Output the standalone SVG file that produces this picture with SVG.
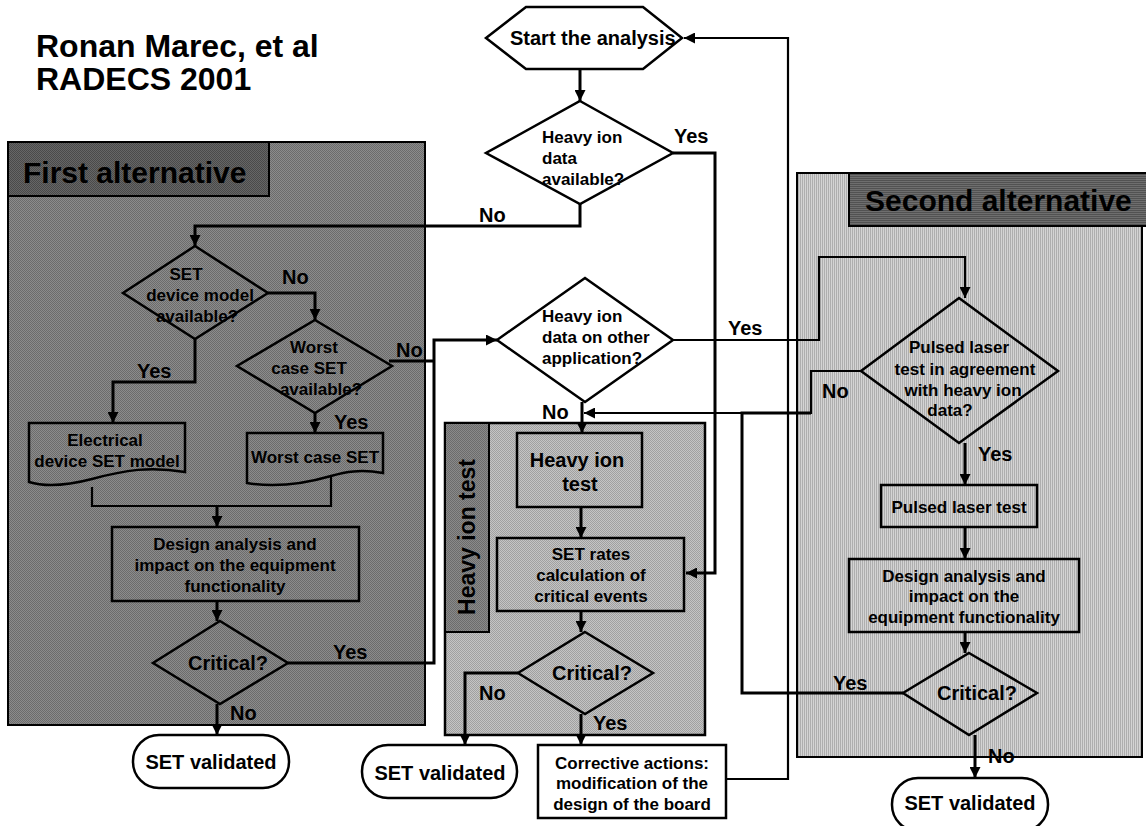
<svg xmlns="http://www.w3.org/2000/svg" width="1146" height="826" viewBox="0 0 1146 826">
<defs>
<pattern id="pA" width="2" height="2" patternUnits="userSpaceOnUse"><rect width="2" height="2" fill="#8c8c8c"/><rect width="1" height="1" fill="#6c6c6c"/><rect x="1" y="1" width="1" height="1" fill="#6c6c6c"/></pattern>
<pattern id="pAh" width="2" height="2" patternUnits="userSpaceOnUse"><rect width="2" height="2" fill="#666"/><rect width="1" height="1" fill="#4a4a4a"/><rect x="1" y="1" width="1" height="1" fill="#4a4a4a"/></pattern>
<pattern id="pB" width="2" height="2" patternUnits="userSpaceOnUse"><rect width="2" height="2" fill="#c4c4c4"/><rect width="1" height="1" fill="#a0a0a0"/><rect x="1" y="1" width="1" height="1" fill="#a0a0a0"/></pattern>
<pattern id="pBh" width="2" height="2" patternUnits="userSpaceOnUse"><rect width="2" height="2" fill="#8a8a8a"/><rect width="1" height="1" fill="#6c6c6c"/><rect x="1" y="1" width="1" height="1" fill="#6c6c6c"/></pattern>
<pattern id="pC" width="2" height="2" patternUnits="userSpaceOnUse"><rect width="2" height="2" fill="#d4d4d4"/><rect width="1" height="2" fill="#aeaeae"/></pattern>
<pattern id="pCh" width="2" height="2" patternUnits="userSpaceOnUse"><rect width="2" height="2" fill="#6e6e6e"/><rect width="2" height="1" fill="#525252"/></pattern>
<marker id="ar" viewBox="0 0 10 10" refX="10" refY="5" markerWidth="12" markerHeight="11" markerUnits="userSpaceOnUse" orient="auto"><path d="M0,0 L10,5 L0,10 Z" fill="#000"/></marker>
</defs>
<style>
text{font-family:"Liberation Sans",Arial,sans-serif;font-weight:bold;fill:#000}
.t17{font-size:17px}
.t20{font-size:20px}
.t30{font-size:30px}
.m{text-anchor:middle}
.sh{stroke:#000;stroke-width:2.5}
.w{fill:#fff}
.n{fill:none}
.c{fill:none;stroke:#000;stroke-width:3;stroke-linejoin:miter}
.c2{fill:none;stroke:#000;stroke-width:2.2}
.a{marker-end:url(#ar)}
</style>
<rect width="1146" height="826" fill="#fff"/>

<g id="title">
<text x="36" y="57" style="font-size:32px">Ronan Marec, et al</text>
<text x="36" y="90" style="font-size:32px">RADECS 2001</text>
</g>

<g id="panel-first">
<rect x="8" y="142" width="417" height="583" fill="url(#pA)" stroke="#000" stroke-width="2"/>
<rect x="8" y="142" width="261" height="54" fill="url(#pAh)" stroke="#000" stroke-width="2"/>
<text class="t30" x="23" y="183">First alternative</text>
</g>
<g id="panel-hit">
<rect x="445" y="423" width="260" height="312" fill="url(#pB)" stroke="#000" stroke-width="2.5"/>
<rect x="445" y="423" width="44" height="209" fill="url(#pBh)" stroke="#000" stroke-width="2"/>
<text transform="translate(475,537) rotate(-90)" class="m" style="font-size:23px">Heavy ion test</text>
</g>
<g id="panel-second">
<rect x="797" y="173" width="345" height="584" fill="url(#pC)" stroke="#000" stroke-width="2"/>
<rect x="849" y="173" width="300" height="53" fill="url(#pCh)" stroke="#000" stroke-width="2"/>
<text class="t30" x="865" y="211">Second alternative</text>
</g>

<g id="connectors">
<path class="c a" d="M580,69 V101"/>
<path class="c" d="M580,204 V226 H195 V246" marker-end="url(#ar)"/>
<path class="c a" d="M673,153 H715 V573 H686"/>
<path class="c a" d="M268,293 H315 V320"/>
<path class="c a" d="M195,339 V382 H113 V423"/>
<path class="c" d="M389,361 H434"/>
<path class="c a" d="M288,663 H434 V340 H497"/>
<path class="c a" d="M315,413 V433"/>
<path class="c2" d="M92,487 V506 H331 V476"/>
<path class="c a" d="M217,506 V527"/>
<path class="c a" d="M217,601 V621"/>
<path class="c a" d="M217,704 V735"/>
<path class="c2 a" d="M673,340 H819 V257 H965 V298"/>
<path class="c a" d="M582,402 V433"/>
<path class="c2 a" d="M861,371 H811 V413 H584"/>
<path class="c" d="M903,693 H742 V413 H811"/>
<path class="c a" d="M581,507 V538"/>
<path class="c a" d="M581,611 V632"/>
<path class="c a" d="M518,673 H465 V745"/>
<path class="c a" d="M581,714 V745"/>
<path class="c2 a" d="M726,779 H788 V38 H684"/>
<path class="c a" d="M965,443 V485"/>
<path class="c a" d="M965,527 V559"/>
<path class="c a" d="M965,632 V653"/>
<path class="c a" d="M975,735 V778"/>
</g>

<g id="labels">
<text class="t20" x="674" y="143">Yes</text>
<text class="t20" x="479" y="222">No</text>
<text class="t20" x="282" y="284">No</text>
<text class="t20" x="137" y="378">Yes</text>
<text class="t20" x="396" y="357">No</text>
<text class="t20" x="334" y="429">Yes</text>
<text class="t20" x="333" y="659">Yes</text>
<text class="t20" x="230" y="720">No</text>
<text class="t20" x="728" y="335">Yes</text>
<text class="t20" x="542" y="419">No</text>
<text class="t20" x="822" y="398">No</text>
<text class="t20" x="978" y="461">Yes</text>
<text class="t20" x="833" y="690">Yes</text>
<text class="t20" x="988" y="763">No</text>
<text class="t20" x="479" y="700">No</text>
<text class="t20" x="593" y="730">Yes</text>
</g>

<g id="start">
<polygon class="sh w" points="486,38 526,7 643,7 682,38 643,69 526,69"/>
<text class="t20" x="510" y="45">Start the analysis</text>
</g>
<g id="d-heavy-ion-data">
<polygon class="sh w" points="580,101 673,153 580,204 486,153"/>
<text class="t17" x="542" y="143">Heavy ion</text>
<text class="t17" x="542" y="164">data</text>
<text class="t17" x="542" y="185">available?</text>
</g>
<g id="d-other-app">
<polygon class="sh w" points="585,278 673,340 585,402 497,340"/>
<text class="t17" x="542" y="322">Heavy ion</text>
<text class="t17" x="542" y="343">data on other</text>
<text class="t17" x="542" y="364">application?</text>
</g>
<g id="d-set-model">
<polygon class="sh n" points="195,246 268,293 195,339 123,293"/>
<text class="t17 m" x="186" y="280">SET</text>
<text class="t17 m" x="200" y="301">device model</text>
<text class="t17 m" x="197" y="322">available?</text>
</g>
<g id="d-worst">
<polygon class="sh n" points="315,320 392,366 315,413 237,366"/>
<text class="t17 m" x="314" y="353">Worst</text>
<text class="t17 m" x="309" y="374">case SET</text>
<text class="t17 m" x="321" y="395">available?</text>
</g>
<g id="doc-electrical">
<path class="sh n" d="M29,423 H185 V472 C150,466 125,470 92,479 C65,486 45,487 29,482 Z"/>
<text class="t17 m" x="105" y="446">Electrical</text>
<text class="t17 m" x="107" y="467">device SET model</text>
</g>
<g id="doc-worst">
<path class="sh n" d="M247,433 H383 V473 C360,469 345,472 331,476 C300,485 270,487 247,483 Z"/>
<text class="t17 m" x="315" y="463">Worst case SET</text>
</g>
<g id="design-left">
<rect class="sh n" x="112" y="527" width="247" height="74"/>
<text class="t17 m" x="235" y="550">Design analysis and</text>
<text class="t17 m" x="235" y="571">impact on the equipment</text>
<text class="t17 m" x="235" y="592">functionality</text>
</g>
<g id="critical-left">
<polygon class="sh n" points="220,621 288,663 220,704 153,663"/>
<text class="t20 m" x="228" y="670">Critical?</text>
</g>
<g id="validated-left">
<rect class="sh w" x="133" y="735" width="156" height="53" rx="26"/>
<text class="t20 m" x="211" y="769">SET validated</text>
</g>
<g id="heavy-ion-test">
<rect class="sh n" x="517" y="433" width="125" height="74"/>
<text class="t20 m" x="577" y="467">Heavy ion</text>
<text class="t20 m" x="580" y="491">test</text>
</g>
<g id="set-rates">
<rect class="sh n" x="497" y="538" width="187" height="73"/>
<text class="t17 m" x="591" y="560">SET rates</text>
<text class="t17 m" x="591" y="581">calculation of</text>
<text class="t17 m" x="591" y="602">critical events</text>
</g>
<g id="critical-hit">
<polygon class="sh n" points="585,632 653,673 585,714 518,673"/>
<text class="t20 m" x="592" y="680">Critical?</text>
</g>
<g id="validated-mid">
<rect class="sh w" x="362" y="745" width="155" height="53" rx="26"/>
<text class="t20 m" x="440" y="780">SET validated</text>
</g>
<g id="corrective">
<rect class="sh w" x="538" y="745" width="188" height="73"/>
<text class="t17 m" x="632" y="769">Corrective actions:</text>
<text class="t17 m" x="632" y="789">modification of the</text>
<text class="t17 m" x="632" y="810">design of the board</text>
</g>
<g id="d-pulsed">
<polygon class="sh n" points="959,298 1058,371 959,443 861,371"/>
<text class="t17 m" x="959" y="353">Pulsed laser</text>
<text class="t17 m" x="965" y="375">test in agreement</text>
<text class="t17 m" x="963" y="396">with heavy ion</text>
<text class="t17 m" x="950" y="416">data?</text>
</g>
<g id="pulsed-test">
<rect class="sh n" x="881" y="485" width="156" height="42"/>
<text class="t17 m" x="959" y="513">Pulsed laser test</text>
</g>
<g id="design-right">
<rect class="sh n" x="849" y="559" width="230" height="73"/>
<text class="t17 m" x="964" y="582">Design analysis and</text>
<text class="t17 m" x="964" y="602">impact on the</text>
<text class="t17 m" x="964" y="623">equipment functionality</text>
</g>
<g id="critical-right">
<polygon class="sh n" points="969,653 1037,693 969,735 903,693"/>
<text class="t20 m" x="977" y="700">Critical?</text>
</g>
<g id="validated-right">
<rect class="sh w" x="892" y="778" width="156" height="53" rx="26"/>
<text class="t20 m" x="970" y="810">SET validated</text>
</g>
</svg>
